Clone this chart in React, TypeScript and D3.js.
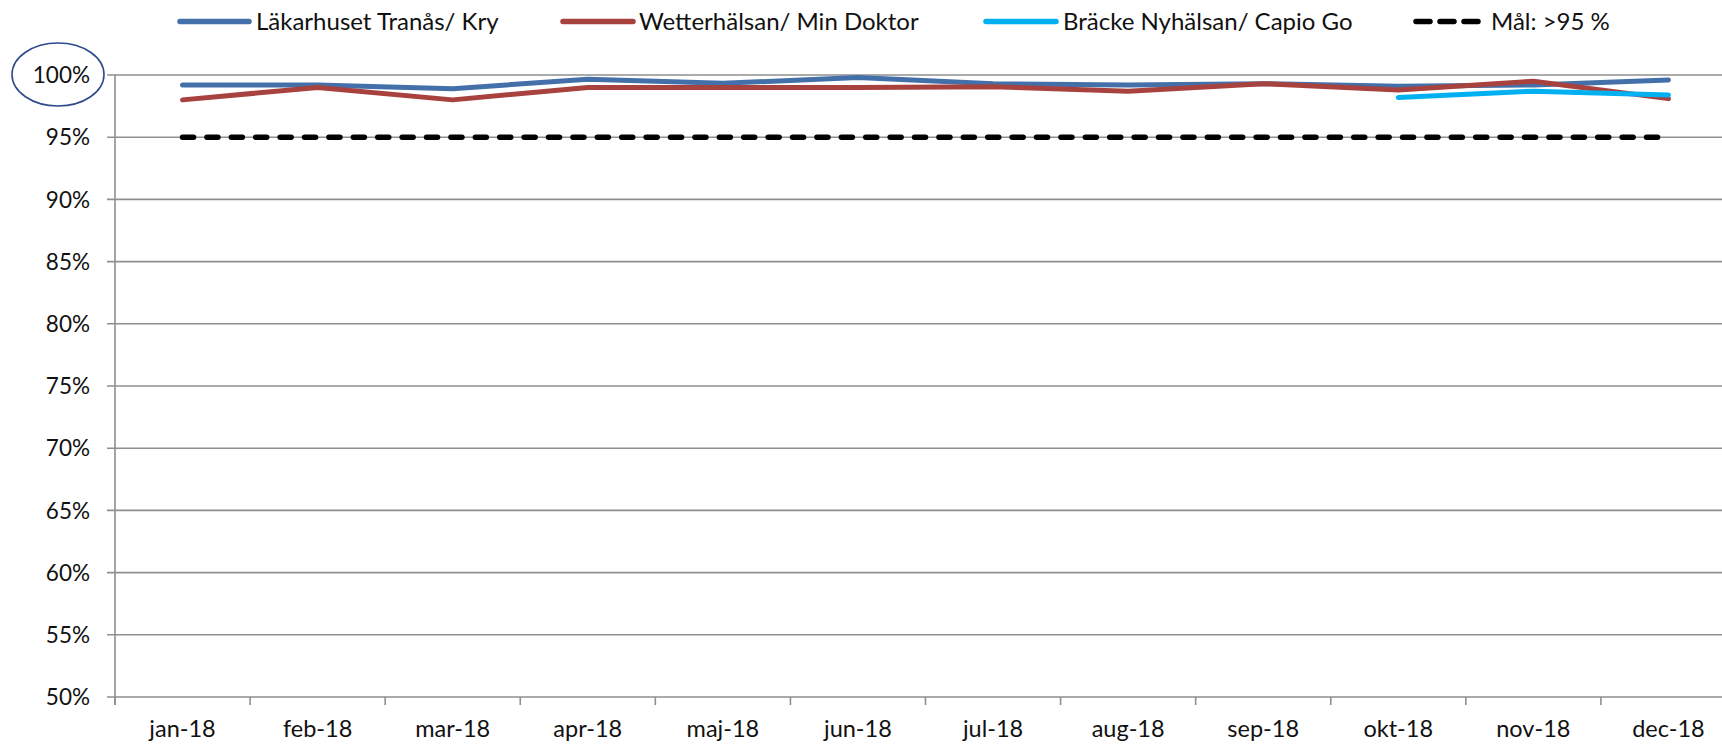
import React from "react";
import * as d3 from "d3";

const months = ["jan-18", "feb-18", "mar-18", "apr-18", "maj-18", "jun-18", "jul-18", "aug-18", "sep-18", "okt-18", "nov-18", "dec-18"];
const lakarhuset = [0.992, 0.992, 0.989, 0.9965, 0.9933, 0.998, 0.993, 0.992, 0.993, 0.991, 0.992, 0.996];
const wetterhalsan = [0.980, 0.990, 0.980, 0.990, 0.990, 0.990, 0.9905, 0.987, 0.993, 0.988, 0.995, 0.981];
const bracke: (number | null)[] = [null, null, null, null, null, null, null, null, null, 0.982, 0.987, 0.984];
const goal = [0.95, 0.95, 0.95, 0.95, 0.95, 0.95, 0.95, 0.95, 0.95, 0.95, 0.95, 0.95];
const yTicks = [0.5, 0.55, 0.6, 0.65, 0.7, 0.75, 0.8, 0.85, 0.9, 0.95, 1.0];
const seriesNames = ["Läkarhuset Tranås/ Kry", "Wetterhälsan/ Min Doktor", "Bräcke Nyhälsan/ Capio Go", "Mål: >95 %"];

const W = 1722;
const H = 747;
const FONT = "Lato, 'Open Sans', sans-serif";
const BLUE = "#4470A9";
const RED = "#A8423F";
const CYAN = "#00B0F0";
const GRID = "#8F8F8F";

export default function App() {
  const left = 115;
  const right = 1736;
  const top = 75;
  const bottom = 697;
  const x = d3.scaleBand<string>().domain(months).range([left, right]).padding(0);
  const y = d3.scaleLinear().domain([0.5, 1]).range([bottom, top]);
  const cx = (i: number) => (x(months[i]) as number) + x.bandwidth() / 2;

  const line = d3
    .line<number | null>()
    .defined((d) => d != null)
    .x((_, i) => cx(i))
    .y((d) => y(d as number));

  const fmt = d3.format(".0%");
  const boundaries = months.map((m) => x(m) as number).concat([right]);

  const legend = [
    { x1: 180, x2: 249, tx: 256, color: BLUE, dash: undefined as string | undefined, name: seriesNames[0] },
    { x1: 563, x2: 633, tx: 639, color: RED, dash: undefined, name: seriesNames[1] },
    { x1: 986, x2: 1056, tx: 1063, color: CYAN, dash: undefined, name: seriesNames[2] },
    { x1: 1416, x2: 1478, tx: 1491, color: "#000", dash: "14 10", name: seriesNames[3] },
  ];

  return (
    <svg width={W} height={H} style={{ position: "absolute", left: 0, top: 0, background: "#fff" }} fontFamily={FONT}>
      <rect x={0} y={0} width={W} height={H} fill="#fff" />
      {/* gridlines + y ticks */}
      {yTicks.map((t) => (
        <g key={t}>
          <line x1={left - 8} x2={right} y1={y(t)} y2={y(t)} stroke={GRID} strokeWidth={1.6} />
          <text x={90} y={y(t)} dy="0.36em" textAnchor="end" fontSize={22.5} fill="#111">
            {fmt(t)}
          </text>
        </g>
      ))}
      {/* y axis */}
      <line x1={left} x2={left} y1={top} y2={bottom + 8} stroke={GRID} strokeWidth={1.6} />
      {/* x ticks */}
      {boundaries.map((b, i) => (
        <line key={i} x1={b} x2={b} y1={bottom} y2={bottom + 8} stroke={GRID} strokeWidth={1.6} />
      ))}
      {months.map((m, i) => (
        <text key={m} x={cx(i)} y={737} textAnchor="middle" fontSize={23.5} fill="#111">
          {m}
        </text>
      ))}
      {/* goal */}
      <path d={line(goal) || ""} fill="none" stroke="#000" strokeWidth={5.5} strokeDasharray="11 13.4" strokeLinecap="round" />
      {/* series */}
      <path d={line(lakarhuset) || ""} fill="none" stroke={BLUE} strokeWidth={5} strokeLinejoin="round" strokeLinecap="round" />
      <path d={line(wetterhalsan) || ""} fill="none" stroke={RED} strokeWidth={5} strokeLinejoin="round" strokeLinecap="round" />
      <path d={line(bracke) || ""} fill="none" stroke={CYAN} strokeWidth={5} strokeLinejoin="round" strokeLinecap="round" />
      {/* ellipse highlight */}
      <ellipse cx={58} cy={74.5} rx={46} ry={31.5} fill="none" stroke="#2F4B8C" strokeWidth={1.6} />
      {/* legend */}
      {legend.map((l) => (
        <g key={l.name}>
          <line x1={l.x1} x2={l.x2} y1={21.5} y2={21.5} stroke={l.color} strokeWidth={5.5} strokeLinecap="round" strokeDasharray={l.dash} />
          <text x={l.tx} y={21.5} dy="0.36em" fontSize={24} fill="#111">
            {l.name}
          </text>
        </g>
      ))}
    </svg>
  );
}
